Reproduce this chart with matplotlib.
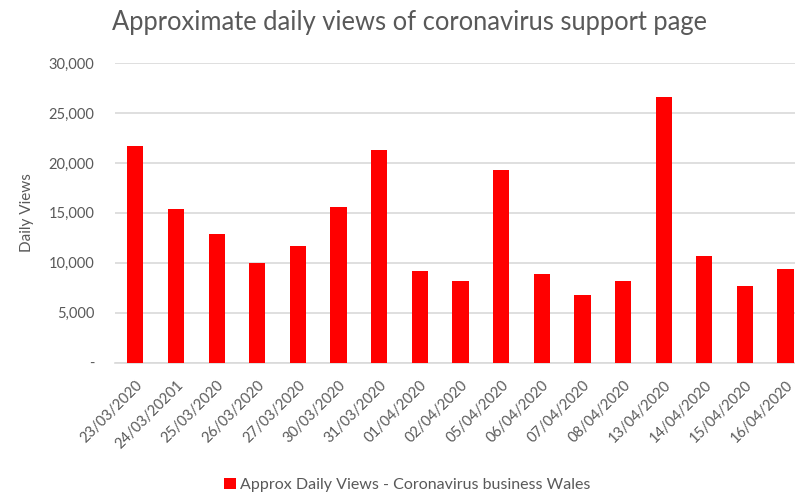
import matplotlib.pyplot as plt
from matplotlib.ticker import FuncFormatter

dates = ["23/03/2020", "24/03/20201", "25/03/2020", "26/03/2020", "27/03/2020",
         "30/03/2020", "31/03/2020", "01/04/2020", "02/04/2020", "05/04/2020",
         "06/04/2020", "07/04/2020", "08/04/2020", "13/04/2020", "14/04/2020",
         "15/04/2020", "16/04/2020"]
views = [21700, 15350, 12850, 10000, 11650, 15600, 21250, 9180, 8150, 19320,
         8850, 6780, 8150, 26570, 10650, 7680, 9350]
yticks = [0, 5000, 10000, 15000, 20000, 25000, 30000]

grey = "#595959"
plt.rcParams['font.family'] = ['Lato', 'DejaVu Sans']

fig = plt.figure(figsize=(7.95, 4.92), dpi=100)
ax = fig.add_axes([0.1447, 0.2628, 0.869, 0.609])

x = range(len(dates))
bars = ax.bar(x, views, width=0.4, color="#ff0000", zorder=3,
              label="Approx Daily Views - Coronavirus business Wales")

ax.set_xlim(-0.5, len(dates) - 0.5)
ax.set_ylim(0, 30000)
ax.set_yticks(yticks)
ax.yaxis.set_major_formatter(FuncFormatter(lambda v, p: "-" if v == 0 else f"{int(v):,}"))
ax.grid(axis="y", color="#d9d9d9", linewidth=1.2, zorder=0)
for s in ["top", "right", "left"]:
    ax.spines[s].set_visible(False)
ax.spines["bottom"].set_color("#d9d9d9")
ax.spines["bottom"].set_linewidth(1.2)
ax.tick_params(axis="both", length=0, colors=grey, labelsize=10.5)
ax.tick_params(axis="y", pad=15)
ax.tick_params(axis="x", pad=11)
ax.set_xticks(list(x))
ax.set_xticklabels(dates, rotation=45, ha="right", rotation_mode="anchor")

ax.set_ylabel("Daily Views", color=grey, fontsize=11)
ax.yaxis.set_label_coords(-0.117, 0.5)

fig.text(0.141, 0.955, "Approximate daily views of coronavirus support page",
         fontsize=18.4, color=grey, ha="left", va="center")

fig.legend(handles=[bars], loc="center", bbox_to_anchor=(0.5126, 0.014),
           frameon=False, fontsize=11.5, labelcolor=grey,
           handlelength=0.7, handleheight=0.7, handletextpad=0.3)

fig.savefig("out.png", dpi=100)
